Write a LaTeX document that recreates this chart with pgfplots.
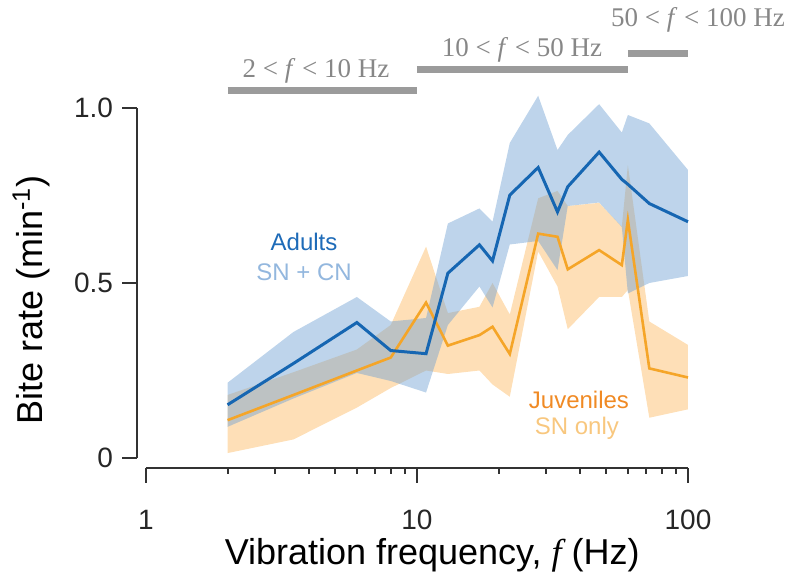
\documentclass[border=0pt]{standalone}
\usepackage{fontspec}
\setmainfont{Liberation Sans}
\newfontfamily\timesfont{Liberation Serif}
\usepackage{pgfplots}
\pgfplotsset{compat=1.18}
\usepackage{pgfplotstable}
\usepgfplotslibrary{fillbetween}

\definecolor{adultline}{RGB}{22,102,178}
\definecolor{adultfill}{RGB}{110,160,210}
\definecolor{juvline}{RGB}{245,165,40}
\definecolor{juvfill}{RGB}{252,185,95}
\definecolor{adulttxt}{RGB}{30,107,184}
\definecolor{adultsub}{RGB}{147,183,222}
\definecolor{juvtxt}{RGB}{240,138,36}
\definecolor{juvsub}{RGB}{248,199,126}
\definecolor{rangebar}{RGB}{155,155,155}
\definecolor{rangetxt}{RGB}{135,135,135}
\definecolor{spine}{RGB}{50,50,50}

% bite rate (1/min): mean and band edges for adults (A) and juveniles (J)
\pgfplotstableread{
f     A     Alo   Ahi   J     Jlo   Jhi
2     0.152 0.089 0.215 0.108 0.014 0.180
3.5   0.270 0.170 0.360 0.180 0.053 0.245
6     0.387 0.243 0.460 0.250 0.144 0.310
8     0.307 0.220 0.390 0.287 0.200 0.380
10.8  0.298 0.187 0.400 0.444 0.250 0.604
13    0.528 0.380 0.670 0.321 0.240 0.414
17    0.609 0.490 0.713 0.351 0.250 0.432
19    0.563 0.430 0.675 0.375 0.210 0.500
22    0.751 0.610 0.900 0.297 0.175 0.410
28    0.830 0.620 1.035 0.641 0.590 0.742
33    0.703 0.537 0.880 0.632 0.490 0.763
36    0.775 0.720 0.923 0.539 0.368 0.720
47    0.874 0.730 1.011 0.594 0.460 0.729
57    0.796 0.660 0.930 0.551 0.460 0.661
60    0.782 0.470 0.980 0.680 0.480 0.837
72    0.727 0.500 0.956 0.256 0.115 0.390
100   0.675 0.520 0.823 0.230 0.139 0.323
}\biterate

\begin{document}
\begin{tikzpicture}
\begin{axis}[
  at={(0,0)}, anchor=south west,
  scale only axis, width=271pt, height=175pt,
  xmode=log, xmin=1, xmax=100, ymin=0, ymax=1,
  axis x line*=bottom, axis y line*=left,
  axis x line shift=5pt, axis y line shift=4.5pt,
  axis line style={line width=1pt, spine, -},
  tick align=outside,
  major tick length=7.5pt, minor tick length=3pt,
  every tick/.style={line width=1pt, spine},
  xtick={1,10,100}, xticklabels={1,10,100},
  minor xtick={2,3,...,9,20,30,...,90},
  ytick={0,0.5,1}, yticklabels={0,0.5,1.0},
  /pgf/number format/assume math mode=true,
  tick label style={font=\fontsize{14}{16}\selectfont, text=black!85},
  xticklabel style={yshift=-10pt},
  yticklabel style={xshift=-1pt},
  xlabel={Vibration frequency, {\timesfont\itshape f} (Hz)},
  ylabel={Bite rate (min\textsuperscript{-1})},
  label style={font=\fontsize{18}{20}\selectfont},
  xlabel style={at={(rel axis cs:0.528,-0.277)}, anchor=center},
  ylabel style={at={(rel axis cs:-0.212,0.451)}, anchor=center},
  clip=false,
]
% juveniles (SN only)
\addplot[name path=jhi, draw=none, forget plot] table[x=f, y=Jhi] {\biterate};
\addplot[name path=jlo, draw=none, forget plot] table[x=f, y=Jlo] {\biterate};
\addplot[juvfill, fill opacity=0.45, draw=none] fill between[of=jhi and jlo];
\addplot[juvline, line width=1.3pt, mark=none] table[x=f, y=J] {\biterate};
% adults (SN + CN)
\addplot[name path=ahi, draw=none, forget plot] table[x=f, y=Ahi] {\biterate};
\addplot[name path=alo, draw=none, forget plot] table[x=f, y=Alo] {\biterate};
\addplot[adultfill, fill opacity=0.45, draw=none] fill between[of=ahi and alo];
\addplot[adultline, line width=1.5pt, mark=none] table[x=f, y=A] {\biterate};

% series labels
\node[font=\fontsize{12}{14}\selectfont, text=adulttxt] at (axis cs:3.83,0.617) {Adults};
\node[font=\fontsize{12}{14}\selectfont, text=adultsub] at (axis cs:3.83,0.531) {SN + CN};
\node[font=\fontsize{12}{14}\selectfont, text=juvtxt] at (axis cs:39.6,0.166) {Juveniles};
\node[font=\fontsize{12}{14}\selectfont, text=juvsub] at (axis cs:38.9,0.086) {SN only};

% frequency ranges
\draw[rangebar, line width=3.5pt] (axis cs:2,1.049) -- (axis cs:10,1.049);
\draw[rangebar, line width=3.5pt] (axis cs:10,1.109) -- (axis cs:60,1.109);
\draw[rangebar, line width=3.5pt] (axis cs:60,1.157) -- (axis cs:100,1.157);
\node[font=\timesfont\fontsize{13.5}{15}\selectfont, text=rangetxt] at (axis cs:4.24,1.106) {2 < \textit{f} < 10 Hz};
\node[font=\timesfont\fontsize{13.5}{15}\selectfont, text=rangetxt] at (axis cs:24.4,1.166) {10 < \textit{f} < 50 Hz};
\node[font=\timesfont\fontsize{13.5}{15}\selectfont, text=rangetxt] at (axis cs:108.8,1.251) {50 < \textit{f} < 100 Hz};
\end{axis}
\pgfresetboundingbox
\useasboundingbox (-73pt,-62pt) rectangle (321.5pt,229pt);
\end{tikzpicture}
\end{document}
